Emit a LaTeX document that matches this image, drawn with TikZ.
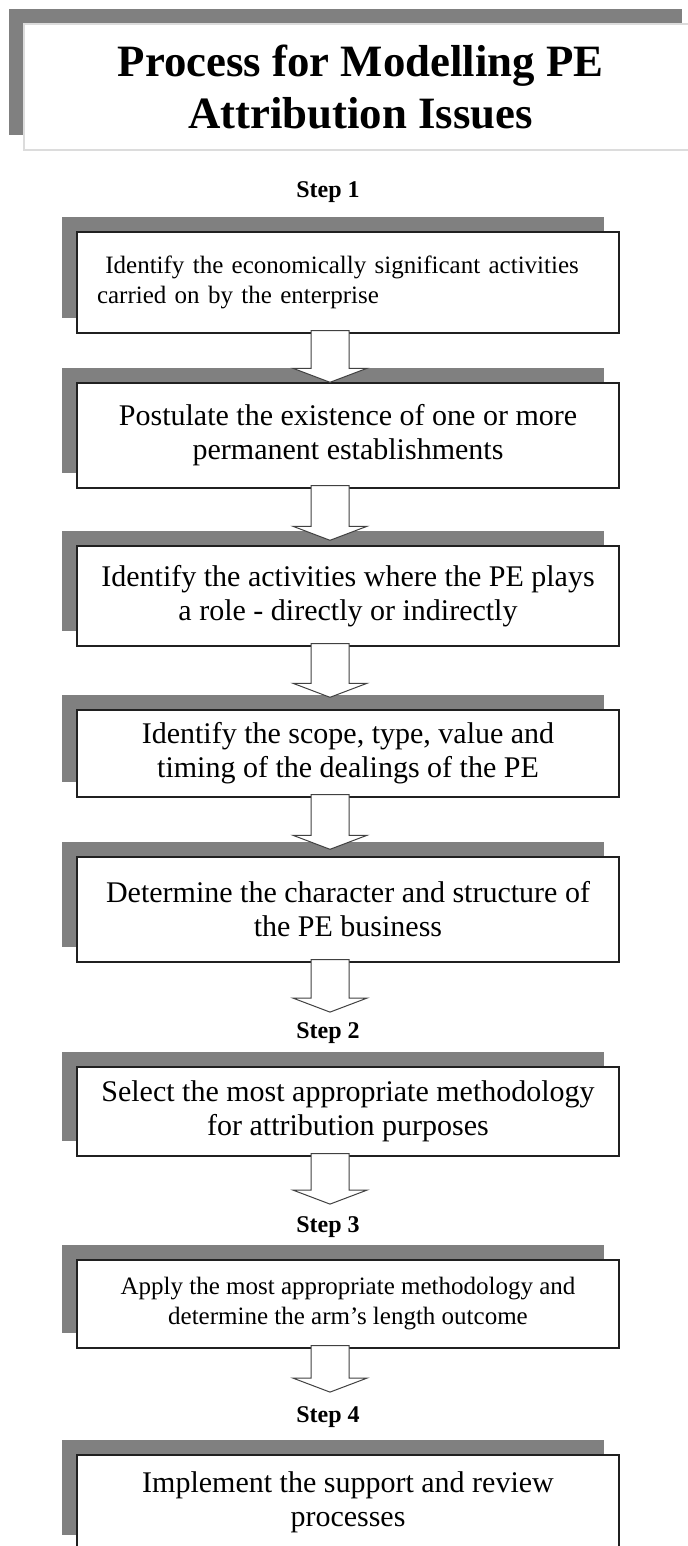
\documentclass[tikz,border=0pt]{standalone}
\usepackage{fontspec}
\setmainfont{Liberation Serif}
\usetikzlibrary{calc, shadows}
\definecolor{shade}{HTML}{808080}
\definecolor{rim}{HTML}{202020}
\definecolor{titlerim}{HTML}{dcdcdc}
\tikzset{
    box/.style={
        rectangle, draw=rim, line width=0.7pt, fill=white,
        minimum width=271pt, inner sep=4pt,
        align=center,
        font=\fontsize{15}{17}\selectfont,
        general shadow={fill=shade, shadow xshift=-7.5pt, shadow yshift=7.5pt}
    },
    smallbox/.style={
        box,
        font=\fontsize{12.5}{15}\selectfont
    },
    titlebox/.style={
        box, draw=titlerim,
        minimum width=336.5pt, minimum height=63pt,
        font=\fontsize{22.4}{26}\selectfont\bfseries
    },
    steplabel/.style={font=\fontsize{12}{14}\selectfont\bfseries, inner sep=4pt},
    flow/.style={draw=rim!85, fill=white, line width=0.5pt, line join=miter},
}
% block arrow from one node down to the next: from, to, gap above target (px)
\newcommand{\flowarrow}[3]{%
    \path (#1.south -| ax) coordinate (fa-s) (#2.north -| ax) coordinate (fa-e);
    \draw[flow] ($(fa-s)+(-19,-3)$) -- ($(fa-e)+(-19,-14-#3)$) -- ($(fa-e)+(-37,-14-#3)$)
        -- ($(fa-e)+(0,-#3)$) -- ($(fa-e)+(37,-14-#3)$) -- ($(fa-e)+(19,-14-#3)$)
        -- ($(fa-s)+(19,-3)$) -- cycle;
}

\begin{document}
\begin{tikzpicture}[x=0.5pt, y=-0.5pt]
    \useasboundingbox (0,0) rectangle (687,1546);
    \coordinate (ax) at (330,0);

    \node[titlebox] (title) at (360.5,87) {Process for Modelling PE\\Attribution Issues};

    \node[steplabel] (s1) at (328,192) {Step 1};
    \node[smallbox, minimum height=50.5pt, align=left, text width=251pt, inner xsep=10pt] (b1) at (348,282.5)
        {\ Identify the economically significant activities\\carried on by the enterprise\par\vspace{10pt}};
    \node[box, minimum height=52.5pt] (b2) at (348,435.5)
        {Postulate the existence of one or more\\permanent establishments};
    \node[box, minimum height=50pt] (b3) at (348,596)
        {Identify the activities where the PE plays\\a role - directly or indirectly};
    \node[box, minimum height=43.5pt] (b4) at (348,753.5)
        {Identify the scope, type, value and\\timing of the dealings of the PE};
    \node[box, minimum height=52.5pt] (b5) at (348,909.5)
        {Determine the character and structure of\\the PE business};

    \node[steplabel] (s2) at (328,1033) {Step 2};
    \node[box, minimum height=44.5pt] (b6) at (348,1111.5)
        {Select the most appropriate methodology\\for attribution purposes};

    \node[steplabel] (s3) at (328,1227) {Step 3};
    \node[smallbox, minimum height=44pt] (b7) at (348,1304)
        {Apply the most appropriate methodology and\\determine the arm's length outcome};

    \node[steplabel] (s4) at (328,1417) {Step 4};
    \node[box, minimum height=47.5pt] (b8) at (348,1502.5)
        {Implement the support and review\\processes};

    \foreach \a/\b/\g in {b1/b2/0, b2/b3/5, b3/b4/12, b4/b5/7, b5/s2/2, b6/s3/4, b7/s4/6}
        \flowarrow{\a}{\b}{\g};
\end{tikzpicture}
\end{document}
